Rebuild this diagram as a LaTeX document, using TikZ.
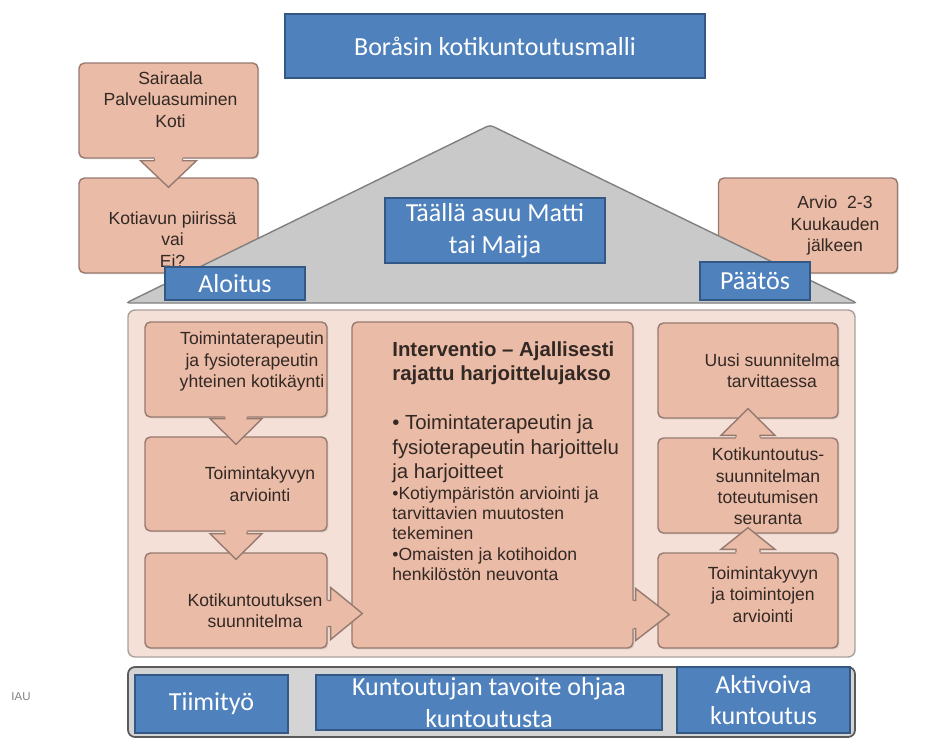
\documentclass[tikz,border=0pt]{standalone}
\usepackage{fontspec}
\setmainfont{Liberation Sans}
\newfontfamily\carlito{Carlito}
\usetikzlibrary{calc,shadows}

\definecolor{blueA}{RGB}{79,129,189}
\definecolor{blueB}{RGB}{52,88,132}
\definecolor{salmon}{RGB}{234,187,166}
\definecolor{salmonline}{RGB}{150,122,112}
\definecolor{bodyfill}{RGB}{244,224,215}
\definecolor{bodyline}{RGB}{170,160,156}
\definecolor{roofgrey}{RGB}{201,201,201}
\definecolor{roofline}{RGB}{128,128,128}
\definecolor{barfill}{RGB}{212,212,212}
\definecolor{barline}{RGB}{90,90,90}
\definecolor{txtdark}{RGB}{50,40,36}

\tikzset{
  bluebox/.style={draw=blueB, line width=1.2pt, fill=blueA, text=white, align=center,
    font=\carlito\fontsize{14.8}{18}\selectfont, inner sep=0pt},
  pinkbox/.style={draw=salmonline, line width=0.8pt, fill=salmon, rounded corners=3pt, inner sep=0pt,
    drop shadow={opacity=0.2, shadow xshift=0.8pt, shadow yshift=-0.8pt}},
  pinktext/.style={text=txtdark, align=center, font=\fontsize{10}{12.2}\selectfont, inner sep=0pt},
  blockarrow/.style={fill=salmon},
  blockedge/.style={draw=salmonline, line width=0.8pt},
}

\begin{document}
\begin{tikzpicture}[x=0.02cm, y=-0.02cm]
    \useasboundingbox (0,0) rectangle (939,745);

    \node[bluebox, minimum width=8.4cm, minimum height=1.28cm] (title) at (495,46) {Boråsin kotikuntoutusmalli};

    % side boxes by the roof
    \node[pinkbox, minimum width=3.58cm, minimum height=1.9cm] (sair) at (168.5,110.5) {};
    \node[pinkbox, minimum width=3.58cm, minimum height=1.9cm] (kotiav) at (168.5,225.5) {};
    \node[pinkbox, minimum width=3.58cm, minimum height=1.9cm] (arvio) at (808,225.5) {};
    \fill[blockarrow] ($(sair.south)+(-14,-4)$) -- ($(sair.south)+(-14,2)$) -- ($(sair.south)+(-28,2)$) -- ($(kotiav.north)+(0,10)$) -- ($(sair.south)+(28,2)$) -- ($(sair.south)+(14,2)$) -- ($(sair.south)+(14,-4)$) -- cycle;
    \draw[blockedge] ($(sair.south)+(-14,0)$) -- ($(sair.south)+(-14,2)$) -- ($(sair.south)+(-28,2)$) -- ($(kotiav.north)+(0,10)$) -- ($(sair.south)+(28,2)$) -- ($(sair.south)+(14,2)$) -- ($(sair.south)+(14,0)$);

    % roof
    \draw[fill=roofgrey, draw=roofline, line width=0.8pt, rounded corners=2pt] (126,303) -- (490,125) -- (857,303) -- cycle;

    \node[pinktext] (sair-t) at ($(sair)+(2,-11)$) {Sairaala\\Palveluasuminen\\Koti};
    \node[pinktext] (kotiav-t) at ($(kotiav)+(4,14)$) {Kotiavun piirissä\\vai\\Ei?};
    \node[pinktext] (arvio-t) at ($(arvio)+(27,0)$) {Arvio\ \ 2-3\\Kuukauden\\jälkeen};

    \node[bluebox, minimum width=4.4cm, minimum height=1.3cm] (taalla) at (495,230.5) {Täällä asuu Matti\\tai Maija};
    \node[bluebox, minimum width=2.8cm, minimum height=0.66cm] (aloitus) at (235,283.5) {Aloitus};
    \node[bluebox, minimum width=2.2cm, minimum height=0.76cm] (paatos) at (755,281) {Päätös};

    % house body
    \draw[fill=bodyfill, draw=bodyline, line width=0.8pt, rounded corners=4pt] (128,310) rectangle (855,657);

    \node[pinkbox, minimum width=3.64cm, minimum height=1.9cm] (lc1) at (236,369.5) {};
    \node[pinkbox, minimum width=3.64cm, minimum height=1.88cm] (lc2) at (236,484) {};
    \node[pinkbox, minimum width=3.64cm, minimum height=1.9cm] (lc3) at (236,600.5) {};
    \node[pinkbox, minimum width=5.62cm, minimum height=6.52cm] (interv) at (492.5,485) {};
    \node[pinkbox, minimum width=3.6cm, minimum height=1.9cm] (rc1) at (748,370.5) {};
    \node[pinkbox, minimum width=3.6cm, minimum height=1.9cm] (rc2) at (748,485.5) {};
    \node[pinkbox, minimum width=3.6cm, minimum height=1.9cm] (rc3) at (748,600.5) {};

    \node[pinktext] (lc1-t) at ($(lc1)+(16,-8)$) {Toimintaterapeutin\\ja fysioterapeutin\\yhteinen kotikäynti};
    \node[pinktext] (lc2-t) at ($(lc2)+(24,0)$) {Toimintakyvyn\\arviointi};
    \node[pinktext] (lc3-t) at ($(lc3)+(19,10)$) {Kotikuntoutuksen\\suunnitelma};
    \node[pinktext] (rc1-t) at ($(rc1)+(24,0)$) {Uusi suunnitelma\\tarvittaessa};
    \node[pinktext] (rc2-t) at ($(rc2)+(20,1)$) {Kotikuntoutus-\\suunnitelman\\toteutumisen\\seuranta};
    \node[pinktext] (rc3-t) at ($(rc3)+(15,-6)$) {Toimintakyvyn\\ja toimintojen\\arviointi};
    \node[text=txtdark, anchor=north west, text width=5cm, align=flush left, inner sep=0pt,
      font=\fontsize{11.6}{14}\selectfont] (interv-t) at (392,341) {%
      {\bfseries Interventio – Ajallisesti\\rajattu harjoittelujakso\par}
      \vspace{13.8pt}
      • Toimintaterapeutin ja\\fysioterapeutin harjoittelu\\ja harjoitteet\par
      {\fontsize{10}{11.6}\selectfont •Kotiympäristön arviointi ja\\tarvittavien muutosten\\tekeminen\\•Omaisten ja kotihoidon\\henkilöstön neuvonta\par}};

    % block arrows in the house
    \fill[blockarrow] ($(lc1.south)+(-11,-4)$) -- ($(lc1.south)+(-11,1)$) -- ($(lc1.south)+(-26,1)$) -- ($(lc2.north)+(0,8)$) -- ($(lc1.south)+(26,1)$) -- ($(lc1.south)+(11,1)$) -- ($(lc1.south)+(11,-4)$) -- cycle;
    \draw[blockedge] ($(lc1.south)+(-11,0)$) -- ($(lc1.south)+(-11,1)$) -- ($(lc1.south)+(-26,1)$) -- ($(lc2.north)+(0,8)$) -- ($(lc1.south)+(26,1)$) -- ($(lc1.south)+(11,1)$) -- ($(lc1.south)+(11,0)$);
    \fill[blockarrow] ($(lc2.south)+(-11,-4)$) -- ($(lc2.south)+(-11,2)$) -- ($(lc2.south)+(-26,2)$) -- ($(lc3.north)+(0,7)$) -- ($(lc2.south)+(26,2)$) -- ($(lc2.south)+(11,2)$) -- ($(lc2.south)+(11,-4)$) -- cycle;
    \draw[blockedge] ($(lc2.south)+(-11,0)$) -- ($(lc2.south)+(-11,2)$) -- ($(lc2.south)+(-26,2)$) -- ($(lc3.north)+(0,7)$) -- ($(lc2.south)+(26,2)$) -- ($(lc2.south)+(11,2)$) -- ($(lc2.south)+(11,0)$);
    \fill[blockarrow] ($(lc3.east)+(-4,0)$) -- ($(lc3.east)+(3,0)$) -- ($(lc3.east)+(3,-13)$) -- ($(interv.west |- lc3.east)+(11,13)$) -- ($(lc3.east)+(3,39)$) -- ($(lc3.east)+(3,26)$) -- ($(lc3.east)+(-4,26)$) -- cycle;
    \draw[blockedge] ($(lc3.east)+(0,0)$) -- ($(lc3.east)+(3,0)$) -- ($(lc3.east)+(3,-13)$) -- ($(interv.west |- lc3.east)+(11,13)$) -- ($(lc3.east)+(3,39)$) -- ($(lc3.east)+(3,26)$) -- ($(lc3.east)+(0,26)$);
    \fill[blockarrow] ($(interv.east |- rc3.west)+(-4,0)$) -- ($(interv.east |- rc3.west)+(2,0)$) -- ($(interv.east |- rc3.west)+(2,-12)$) -- ($(rc3.west)+(12,14)$) -- ($(interv.east |- rc3.west)+(2,40)$) -- ($(interv.east |- rc3.west)+(2,28)$) -- ($(interv.east |- rc3.west)+(-4,28)$) -- cycle;
    \draw[blockedge] ($(interv.east |- rc3.west)+(0,0)$) -- ($(interv.east |- rc3.west)+(2,0)$) -- ($(interv.east |- rc3.west)+(2,-12)$) -- ($(rc3.west)+(12,14)$) -- ($(interv.east |- rc3.west)+(2,40)$) -- ($(interv.east |- rc3.west)+(2,28)$) -- ($(interv.east |- rc3.west)+(0,28)$);
    \fill[blockarrow] ($(rc3.north)+(-12,4)$) -- ($(rc3.north)+(-12,-3)$) -- ($(rc3.north)+(-27,-3)$) -- ($(rc2.south)+(0,-6)$) -- ($(rc3.north)+(27,-3)$) -- ($(rc3.north)+(12,-3)$) -- ($(rc3.north)+(12,4)$) -- cycle;
    \draw[blockedge] ($(rc3.north)+(-12,0)$) -- ($(rc3.north)+(-12,-3)$) -- ($(rc3.north)+(-27,-3)$) -- ($(rc2.south)+(0,-6)$) -- ($(rc3.north)+(27,-3)$) -- ($(rc3.north)+(12,-3)$) -- ($(rc3.north)+(12,0)$);
    \fill[blockarrow] ($(rc2.north)+(-12,4)$) -- ($(rc2.north)+(-12,-2)$) -- ($(rc2.north)+(-27,-2)$) -- ($(rc1.south)+(0,-10)$) -- ($(rc2.north)+(27,-2)$) -- ($(rc2.north)+(12,-2)$) -- ($(rc2.north)+(12,4)$) -- cycle;
    \draw[blockedge] ($(rc2.north)+(-12,0)$) -- ($(rc2.north)+(-12,-2)$) -- ($(rc2.north)+(-27,-2)$) -- ($(rc1.south)+(0,-10)$) -- ($(rc2.north)+(27,-2)$) -- ($(rc2.north)+(12,-2)$) -- ($(rc2.north)+(12,0)$);

    % foundation
    \draw[fill=barfill, draw=barline, line width=1pt, rounded corners=4pt] (128,667) rectangle (855,737);
    \node[bluebox, minimum width=3.06cm, minimum height=1.16cm] (tiimi) at (211.5,704) {Tiimityö};
    \node[bluebox, minimum width=6.92cm, minimum height=1.1cm] (tavoite) at (489,702.5) {Kuntoutujan tavoite ohjaa\\kuntoutusta};
    \node[bluebox, minimum width=3.46cm, minimum height=1.32cm] (aktiv) at (763.5,700) {Aktivoiva\\kuntoutus};

    \node[text=gray, font=\fontsize{6.5}{8}\selectfont, inner sep=0pt] (iau) at (21,697) {IAU};
\end{tikzpicture}
\end{document}
